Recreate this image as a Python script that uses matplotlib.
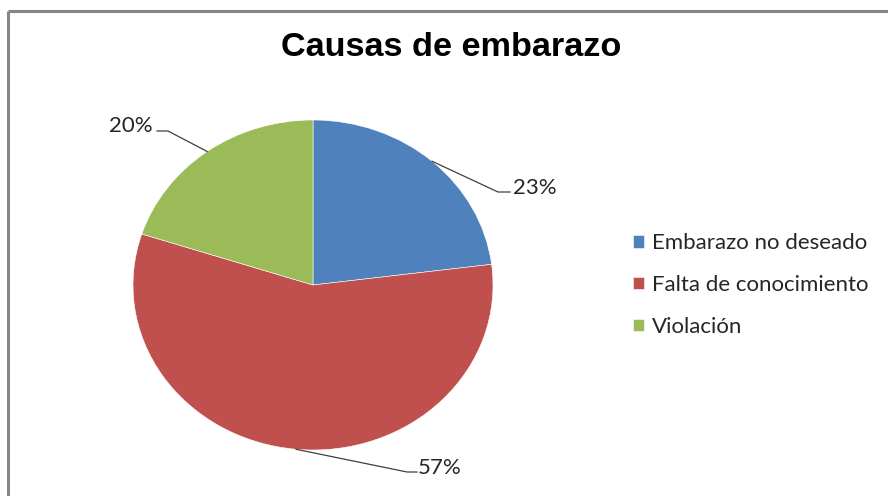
import matplotlib
matplotlib.use("Agg")
import matplotlib.pyplot as plt
import numpy as np

# Data
categories = ["Embarazo no deseado", "Falta de conocimiento", "Violación"]
shares = [23, 57, 20]
pct_labels = ["23%", "57%", "20%"]
colors = ["#4F81BD", "#C0504D", "#9BBB59"]

W, H = 888, 496
fig = plt.figure(figsize=(W / 100, H / 100), dpi=100)
fig.patch.set_facecolor("white")

# Pie geometry (pixels, origin top-left)
cx, cy = 313, 285
rx, ry = 180, 165
lim = 1.25
ax_w, ax_h = 2 * lim * rx, 2 * lim * ry
ax = fig.add_axes([(cx - ax_w / 2) / W, (H - cy - ax_h / 2) / H, ax_w / W, ax_h / H])
wedges, _ = ax.pie(shares, colors=colors, startangle=90, counterclock=False,
                   wedgeprops=dict(edgecolor="white", linewidth=0.4))
ax.set_aspect("auto")
ax.set_xlim(-lim, lim)
ax.set_ylim(-lim, lim)
ax.axis("off")

# Overlay in pixel coordinates for frame, title and leader lines
ov = fig.add_axes([0, 0, 1, 1], zorder=5)
ov.set_xlim(0, W)
ov.set_ylim(H, 0)
ov.axis("off")
ov.patch.set_alpha(0)

# Chart frame (top and left edges visible)
ov.plot([8, W + 5], [11, 11], color="#868686", lw=2.2, solid_capstyle="butt")
ov.plot([8, 8], [11, H + 5], color="#868686", lw=2.2, solid_capstyle="butt")

ov.text(451, 48, "Causas de embarazo", ha="center", va="center",
        fontsize=24.7, fontweight="bold", family="Liberation Sans", color="black")

label_font = "Lato"
to_ov = ov.transData.inverted()

def edge_point(w):
    mid = np.deg2rad((w.theta1 + w.theta2) / 2)
    disp = ax.transData.transform((np.cos(mid), np.sin(mid)))
    return to_ov.transform(disp)

# Leader-line elbow and text anchor for each label (pixels)
elbows = [(498, 192), (407, 472), (168, 131)]
ends = [(510, 192), (417, 472), (157, 131)]
text_pos = [(513, 188), (418, 468), (153, 126)]
aligns = ["left", "left", "right"]

for w, lab, el, en, tp, ha in zip(wedges, pct_labels, elbows, ends, text_pos, aligns):
    px, py = edge_point(w)
    ov.plot([px, el[0], en[0]], [py, el[1], en[1]], color="#404040", lw=0.9)
    ov.text(tp[0], tp[1], lab, ha=ha, va="center", fontsize=16,
            family=label_font, color="#262626")

leg = fig.legend(wedges, categories, loc="center left",
                 bbox_to_anchor=(622 / W, (H - 285) / H),
                 frameon=False, prop={"family": label_font, "size": 16},
                 handlelength=0.48, handleheight=0.48, handletextpad=0.38,
                 labelspacing=0.98, borderpad=0)
for t in leg.get_texts():
    t.set_color("#262626")

fig.savefig("out.png", dpi=100, facecolor="white")
